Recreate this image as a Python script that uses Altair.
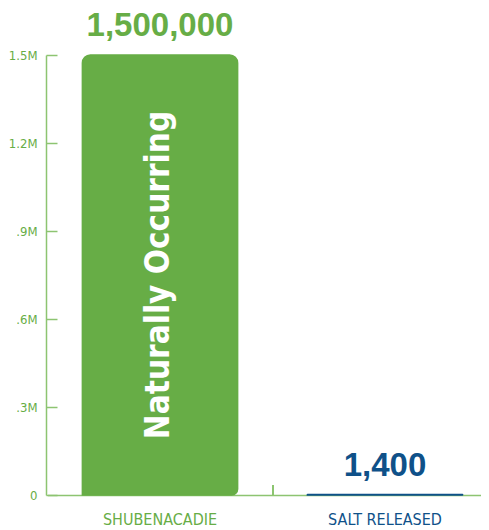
import altair as alt
import pandas as pd

categories = ["SHUBENACADIE", "SALT RELEASED"]
values = [1500000, 1400]
value_labels = ["1,500,000", "1,400"]
colors = ["#67ad46", "#0f5189"]
inner_label = "Naturally Occurring"
y_ticks = [0, 300000, 600000, 900000, 1200000, 1500000]

GREEN = "#67ad46"
AXIS_GREEN = "#8dc471"
NARROW = "DejaVu Sans Condensed, sans-serif"
BOLD = "Liberation Sans, Arial, sans-serif"

df = pd.DataFrame({"cat": categories, "value": values, "label": value_labels, "color": colors})
df_inner = pd.DataFrame({"cat": [categories[0]], "value": [values[0] / 2], "text": [inner_label]})
df_ticks = pd.DataFrame({"v": y_ticks})

x_scale = alt.Scale(domain=categories, range=[1.5, 451.5], paddingInner=0.31, paddingOuter=0.155)
y_scale = alt.Scale(domain=[0, 1500000], nice=False)
color_scale = alt.Scale(domain=categories, range=colors)

x_axis = alt.Axis(
    title=None, domainColor=AXIS_GREEN, domainWidth=1.5, ticks=False, grid=False,
    labelAngle=0, labelFont=NARROW, labelFontSize=16, labelPadding=16,
    labelColor=alt.expr("datum.value == 'SHUBENACADIE' ? '#67ad46' : '#0f5189'"),
)

base = alt.Chart(df)

bars = base.mark_bar(
    cornerRadiusTopLeft=8, cornerRadiusTopRight=8, cornerRadiusBottomRight=6,
    strokeWidth=1.5,
).encode(
    x=alt.X("cat:N", scale=x_scale, sort=categories, axis=x_axis),
    y=alt.Y("value:Q", scale=y_scale, axis=alt.Axis(
        title=None, values=y_ticks, domainColor=AXIS_GREEN, domainWidth=1.5,
        ticks=False, grid=False, labelFont=NARROW, labelFontSize=13,
        labelFontWeight="normal", labelColor=GREEN, labelPadding=9,
        labelExpr="datum.value == 0 ? '0' : (datum.value < 1000000 ? '.' + format(datum.value/100000, 'd') + 'M' : format(datum.value/1000000, '.1f') + 'M')",
    )),
    color=alt.Color("cat:N", scale=color_scale, legend=None),
    stroke=alt.Stroke("cat:N", scale=color_scale, legend=None),
)

# inward-pointing y ticks: a right-oriented axis moved onto the left edge
tick_axis = alt.Chart(df_ticks).mark_point(opacity=0).encode(
    y=alt.Y("v:Q", scale=y_scale, axis=alt.Axis(
        orient="right", offset=-435, values=y_ticks, labels=False, domain=False,
        title=None, grid=False, ticks=True, tickSize=11, tickWidth=1.5,
        tickColor=AXIS_GREEN,
    )),
    x=alt.value(0),
)

value_text = base.mark_text(
    font=BOLD, fontWeight="bold", fontSize=33, baseline="alphabetic", dy=-19,
).encode(
    x=alt.X("cat:N", scale=x_scale, sort=categories, axis=x_axis),
    y=alt.Y("value:Q", scale=y_scale, axis=None),
    text="label:N",
    color=alt.Color("cat:N", scale=color_scale, legend=None),
)

inner_text = alt.Chart(df_inner).mark_text(
    font=NARROW, fontWeight="bold", fontSize=33, angle=270,
    baseline="middle", align="center", color="white", dy=-1,
).encode(
    x=alt.X("cat:N", scale=x_scale, sort=categories, axis=x_axis),
    y=alt.Y("value:Q", scale=y_scale, axis=None),
    text="text:N",
)

sep_rule = alt.Chart(df_ticks).mark_rule(color=AXIS_GREEN, strokeWidth=1.5).encode(
    x=alt.value(227),
    y=alt.value(430),
    y2=alt.value(440),
)

chart = alt.layer(bars, tick_axis, sep_rule, value_text, inner_text).resolve_axis(
    y="independent"
).properties(
    width=435,
    height=440,
    background="white",
    autosize=alt.AutoSizeParams(type="none"),
    padding={"left": 38, "top": 47, "right": 0, "bottom": 35},
).configure_view(strokeWidth=0, stroke="transparent").configure_axis(grid=False)

chart.save("out.html", embed_options={"renderer": "svg", "actions": False})
